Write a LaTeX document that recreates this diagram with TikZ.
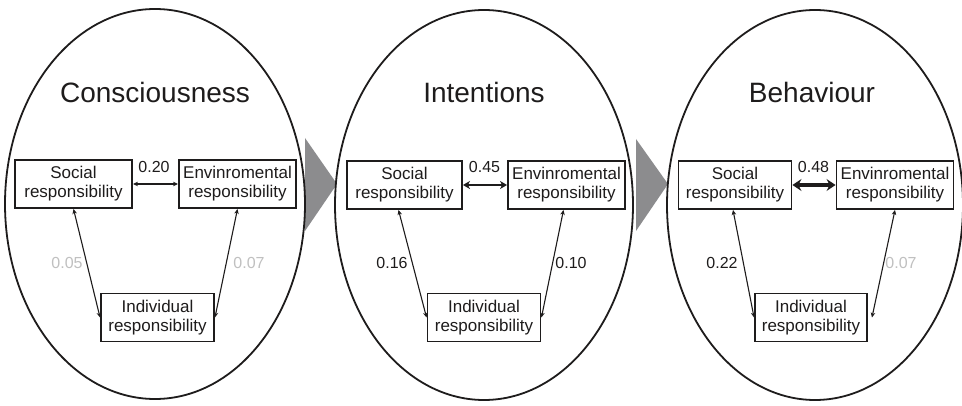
\documentclass[tikz,border=0pt]{standalone}
\usepackage{fontspec}
\setmainfont{Liberation Sans}
\usetikzlibrary{arrows.meta}
\definecolor{txt}{RGB}{30,28,28}
\definecolor{chev}{RGB}{140,140,142}
\definecolor{faint}{RGB}{192,192,192}
\begin{document}
\begin{tikzpicture}[x=1pt,y=-1pt,
  box/.style={draw=txt, line width=1.9pt, minimum width=#1, minimum height=48pt,
    inner sep=1pt, align=center, font=\fontsize{17}{19}\selectfont, text=txt},
  box/.default=116pt,
  title/.style={anchor=base, font=\fontsize{28}{30}\selectfont, text=txt, inner sep=0pt},
  num/.style={font=\fontsize{16}{18}\selectfont, text=txt, inner sep=0pt},
  faintnum/.style={num, text=faint},
  thin/.style={draw=txt, line width=1.1pt, {Stealth[length=5pt,width=4.5pt,inset=1.5pt]}-{Stealth[length=5pt,width=4.5pt,inset=1.5pt]}},
  mid/.style={draw=txt, line width=2.4pt, {Stealth[length=7pt,width=8pt,inset=2pt]}-{Stealth[length=7pt,width=8pt,inset=2pt]}},
  thick/.style={draw=txt, line width=3.6pt, {Stealth[length=9pt,width=12pt,inset=3pt]}-{Stealth[length=9pt,width=12pt,inset=3pt]}},
  oval/.style={draw=txt, line width=1.8pt},
  chevron/.style={fill=chev, draw=none}
]
\useasboundingbox (0,0) rectangle (962,406);
\fill[white] (0,0) rectangle (962,406);

% grey chevrons
\fill[chevron] (305,138) -- (337,184) -- (305,231) -- cycle;
\fill[chevron] (636,139) -- (668,184) -- (636,231) -- cycle;

% ellipses
\draw[oval] (155,204) ellipse [x radius=150, y radius=195];
\draw[oval] (484,205) ellipse [x radius=149, y radius=195];
\draw[oval] (815,205) ellipse [x radius=148, y radius=195];

% titles
\node[title] (t1) at (155,103) {Consciousness};
\node[title] (t2) at (484,103) {Intentions};
\node[title] (t3) at (812,103) {Behaviour};

% panel 1
\node[box=117pt] (s1) at (73.5,184) {Social\\responsibility};
\node[box=117pt] (e1) at (237.5,184) {Envinromental\\responsibility};
\node[box=113pt] (i1) at (157.5,317.5) {Individual\\responsibility};
\draw[thin] (s1.east) -- (e1.west);
\draw[thin] (s1.south) -- (i1.west);
\draw[thin] (e1.south) -- (i1.east);
\node[num] (n1a) at (154,167) {0.20};
\node[faintnum] (n1b) at (67,263) {0.05};
\node[faintnum] (n1c) at (249,263) {0.07};

% panel 2
\node[box=115pt] (s2) at (404.5,185) {Social\\responsibility};
\node[box=117pt] (e2) at (566.5,185) {Envinromental\\responsibility};
\node[box=113pt] (i2) at (484,317.5) {Individual\\responsibility};
\draw[mid] (s2.east) -- (e2.west);
\draw[thin] ([xshift=-6pt]s2.south) -- (i2.west);
\draw[thin] ([xshift=-3pt]e2.south) -- (i2.east);
\node[num] (n2a) at (484.5,167) {0.45};
\node[num] (n2b) at (392,263) {0.16};
\node[num] (n2c) at (571,263) {0.10};

% panel 3
\node[box=113pt] (s3) at (735,185) {Social\\responsibility};
\node[box=117pt] (e3) at (895,185) {Envinromental\\responsibility};
\node[box=112pt] (i3) at (811,317.5) {Individual\\responsibility};
\draw[thick] (s3.east) -- (e3.west);
\draw[thin] ([xshift=-2pt]s3.south) -- (i3.west);
\draw[thin] (e3.south) -- ([xshift=4pt]i3.east);
\node[num] (n3a) at (813.5,167) {0.48};
\node[num] (n3b) at (722,263) {0.22};
\node[faintnum] (n3c) at (901,263) {0.07};
\end{tikzpicture}
\end{document}
